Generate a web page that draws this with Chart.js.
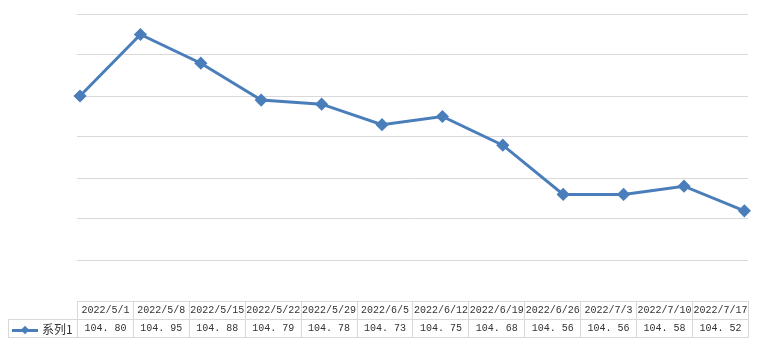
<!DOCTYPE html>
<html>
<head>
<meta charset="utf-8">
<script src="https://cdn.jsdelivr.net/npm/chart.js@4.4.0/dist/chart.umd.min.js"></script>
<style>
    html, body { margin: 0; padding: 0; background: #fff; }
    #wrap { position: relative; width: 760px; height: 351px; }
    #chart { position: absolute; left: 0; top: 0; }
    #dataTable {
        position: absolute; left: 8px; top: 301px; width: 741px;
        border-collapse: collapse; table-layout: fixed;
        font-family: 'Liberation Mono', 'Noto Sans CJK SC', monospace;
        font-size: 10px; color: #333;
    }
    #dataTable td {
        border: 1px solid #d9d9d9; height: 17px; padding: 0;
        text-align: center; white-space: nowrap; overflow: visible;
    }
    #dataTable td.blank { border: none; border-bottom: 1px solid #d9d9d9; }
    #dataTable td.key { text-align: left; font-family: 'Noto Sans CJK SC', sans-serif; font-size: 12px; }
    .keyLine { display: inline-block; position: relative; width: 26px; height: 3px; background: #4a7ebb; vertical-align: middle; margin: 0 4px 0 3px; }
    .keyLine i { position: absolute; left: 10px; top: -2px; width: 6px; height: 6px; background: #4a7ebb; transform: rotate(45deg); }
</style>
</head>
<body>
<div id="wrap">
    <canvas id="chart" width="760" height="351"></canvas>
    <table id="dataTable"></table>
</div>
<script>
const categories = ['2022/5/1', '2022/5/8', '2022/5/15', '2022/5/22', '2022/5/29', '2022/6/5',
    '2022/6/12', '2022/6/19', '2022/6/26', '2022/7/3', '2022/7/10', '2022/7/17'];
const series1 = [104.80, 104.95, 104.88, 104.79, 104.78, 104.73, 104.75, 104.68, 104.56, 104.56, 104.58, 104.52];
const seriesName = '系列1';

// Data table under the plot
const table = document.getElementById('dataTable');
let cols = '<colgroup><col style="width:69px">';
categories.forEach(() => { cols += '<col>'; });
cols += '</colgroup>';
let head = '<tr><td class="blank"></td>';
categories.forEach(c => { head += '<td>' + c + '</td>'; });
head += '</tr>';
let row = '<tr><td class="key"><span class="keyLine"><i></i></span>' + seriesName + '</td>';
series1.forEach(v => { row += '<td>' + v.toFixed(2).replace('.', '. ') + '</td>'; });
row += '</tr>';
table.innerHTML = cols + head + row;

new Chart(document.getElementById('chart'), {
    type: 'line',
    data: {
        datasets: [{
            label: seriesName,
            data: series1.map((v, i) => ({ x: i, y: v })),
            borderColor: '#4a7ebb',
            backgroundColor: '#4a7ebb',
            borderWidth: 3,
            pointStyle: 'rectRot',
            pointRadius: 4.5,
            tension: 0,
            clip: false
        }]
    },
    options: {
        responsive: false,
        animation: false,
        layout: { padding: { left: 77, right: 12, top: 14, bottom: 50 } },
        plugins: { legend: { display: false }, tooltip: { enabled: false } },
        scales: {
            x: {
                type: 'linear', display: false,
                min: -0.05, max: 11.06
            },
            y: {
                min: 104.3, max: 105.0,
                ticks: { display: false, stepSize: 0.1 },
                border: { display: false },
                grid: { color: '#d9d9d9', drawTicks: false },
                afterFit: (axis) => { axis.width = 0; }
            }
        }
    }
});
</script>
</body>
</html>
